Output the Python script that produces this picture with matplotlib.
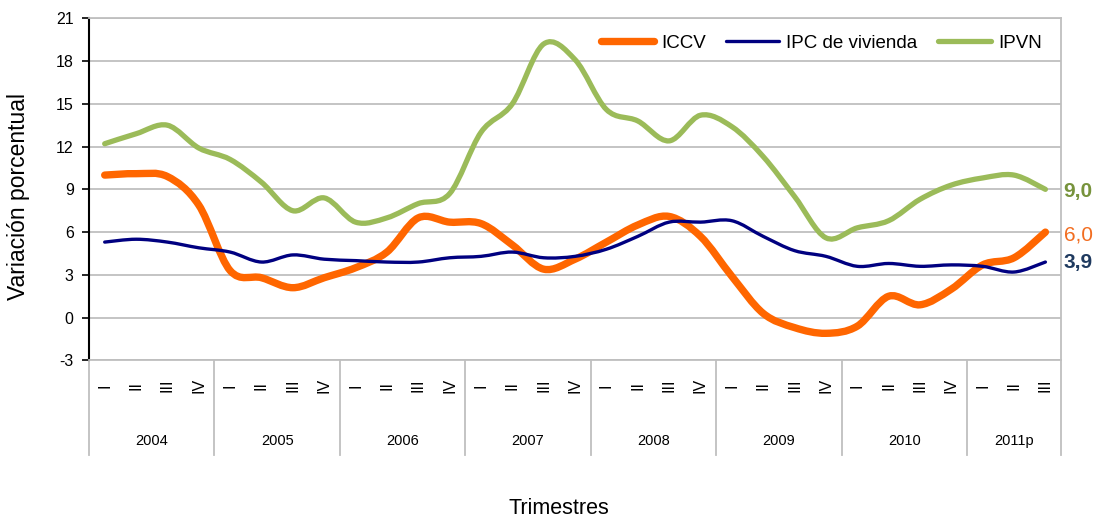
import matplotlib
matplotlib.use("Agg")
import matplotlib.pyplot as plt
import numpy as np
from matplotlib.lines import Line2D
from matplotlib.patches import PathPatch
from matplotlib.path import Path

plt.rcParams["font.family"] = ["Liberation Sans", "DejaVu Sans"]
plt.rcParams["axes.unicode_minus"] = False

# ── Data ─────────────────────────────────────────────────────────────────────
years = ["2004", "2005", "2006", "2007", "2008", "2009", "2010", "2011p"]
quarters_per_year = [4, 4, 4, 4, 4, 4, 4, 3]
quarter_labels = ["I", "II", "III", "IV"]

iccv = [10.0, 10.1, 9.9, 7.9, 3.3, 2.8, 2.1, 2.8, 3.5, 4.6, 7.0, 6.7, 6.6,
        5.1, 3.4, 4.1, 5.3, 6.5, 7.1, 5.7, 2.9, 0.3, -0.7, -1.1, -0.6, 1.5,
        0.9, 2.0, 3.7, 4.2, 6.0]
ipc_vivienda = [5.3, 5.5, 5.3, 4.9, 4.6, 3.9, 4.4, 4.1, 4.0, 3.9, 3.9, 4.2,
                4.3, 4.6, 4.2, 4.3, 4.8, 5.7, 6.7, 6.7, 6.8, 5.7, 4.7, 4.3,
                3.6, 3.8, 3.6, 3.7, 3.6, 3.2, 3.9]
ipvn = [12.2, 12.9, 13.5, 11.9, 11.1, 9.5, 7.5, 8.4, 6.7, 7.0, 8.0, 8.7,
        13.0, 15.0, 19.2, 18.1, 14.6, 13.8, 12.4, 14.2, 13.4, 11.3, 8.5, 5.6,
        6.3, 6.8, 8.3, 9.3, 9.8, 10.0, 9.0]

end_labels = ["6,0", "3,9", "9,0"]

series = [
    ("ICCV", iccv, "#FF6600", 5.3, "#F26D20", "normal"),
    ("IPC de vivienda", ipc_vivienda, "#000080", 2.4, "#1F3A5F", "bold"),
    ("IPVN", ipvn, "#9BBB59", 3.8, "#77933C", "bold"),
]


def smooth_path(x, y):
    """Catmull-Rom style Bezier path through the points (Excel smoothing)."""
    pts = np.column_stack([x, y]).astype(float)
    ext = np.vstack([pts[0], pts, pts[-1]])
    verts = [pts[0]]
    codes = [Path.MOVETO]
    for i in range(len(pts) - 1):
        p0, p1, p2, p3 = ext[i], ext[i + 1], ext[i + 2], ext[i + 3]
        verts += [p1 + (p2 - p0) / 6, p2 - (p3 - p1) / 6, p2]
        codes += [Path.CURVE4] * 3
    return Path(verts, codes)


# ── Figure ───────────────────────────────────────────────────────────────────
fig = plt.figure(figsize=(10.99, 5.17), dpi=100)
ax = fig.add_axes([0.081, 0.3029, 0.8845, 0.6617])

n = len(iccv)
x = np.arange(n)
ax.set_xlim(-0.5, n - 0.5)
ax.set_ylim(-3, 21)
ax.set_yticks(np.arange(-3, 22, 3))
ax.tick_params(axis="y", labelsize=11.5, length=5, width=1.2,
               direction="out", pad=6)
ax.set_xticks([])
ax.yaxis.grid(True, color="#BFBFBF", linewidth=1.3)
ax.set_axisbelow(True)
for side in ("top", "right", "bottom"):
    ax.spines[side].set_color("#BFBFBF")
    ax.spines[side].set_linewidth(1.3)
ax.spines["left"].set_color("black")
ax.spines["left"].set_linewidth(1.5)

handles = []
for z, (name, vals, color, lw, lbl_color, weight) in enumerate(series):
    patch = PathPatch(smooth_path(x, vals), facecolor="none", edgecolor=color,
                      linewidth=lw, capstyle="round", joinstyle="round",
                      zorder=3 + z)
    ax.add_patch(patch)
    handles.append(Line2D([], [], color=color, linewidth=lw,
                          solid_capstyle="round", label=name))

# end-of-series value labels
for (name, vals, color, lw, lbl_color, weight), txt in zip(series, end_labels):
    offset = {"ICCV": -0.2, "IPC de vivienda": -0.05, "IPVN": -0.15}[name]
    ax.text(n - 0.5 + 0.08, vals[-1] + offset, txt, color=lbl_color,
            fontsize=15, fontweight=weight, ha="left", va="center",
            clip_on=False)

# two-level category axis: quarters and years
trans = ax.get_xaxis_transform()
ax_h = 342.0
pos = 0
seps = [-0.5]
for year, nq in zip(years, quarters_per_year):
    for q in range(nq):
        ax.text(pos + q, -25 / ax_h, quarter_labels[q], transform=trans,
                rotation=90, ha="center", va="center", fontsize=11.5)
    ax.text(pos + (nq - 1) / 2, -81 / ax_h, year, transform=trans,
            ha="center", va="center", fontsize=10.5)
    pos += nq
    seps.append(pos - 0.5)
for s in seps:
    ax.plot([s, s], [0, -95 / ax_h], transform=trans, color="#BFBFBF",
            linewidth=1.3, clip_on=False)

fig.text(559 / 1099, 0.017, "Trimestres", ha="center", va="center",
         fontsize=15.5)
fig.text(0.017, 0.619, "Variación porcentual", rotation=90, ha="center",
         va="center", fontsize=16.5)

fig.legend(handles=handles, loc="center right",
           bbox_to_anchor=(1042 / 1099, (517 - 43) / 517), ncol=3,
           frameon=False, fontsize=13.5, handlelength=2.8, handletextpad=0.4,
           columnspacing=1.1, borderpad=0, borderaxespad=0)

fig.savefig("out.png", dpi=100)
